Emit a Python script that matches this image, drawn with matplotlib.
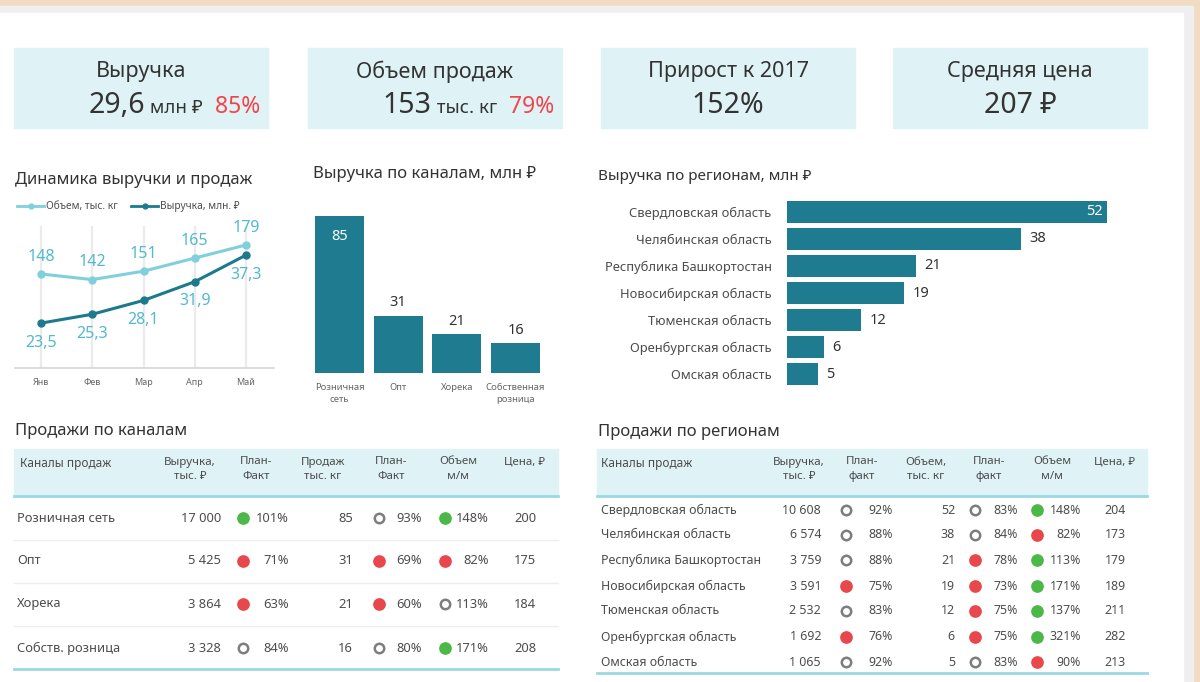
import numpy as np
import matplotlib.pyplot as plt
from matplotlib.patches import Rectangle
from matplotlib.lines import Line2D

plt.rcParams['font.family'] = ['Noto Sans', 'DejaVu Sans']

W, H = 1200, 682

# --------------------------------------------------
# Data
# --------------------------------------------------

kpi_titles = ["Выручка", "Объем продаж", "Прирост к 2017", "Средняя цена"]
kpi_values = ["29,6", "153", "152%", "207 ₽"]
kpi_units = ["млн ₽", "тыс. кг", "", ""]
kpi_plan = ["85%", "79%", "", ""]

months = ["Янв", "Фев", "Мар", "Апр", "Май"]
volume_month = [148, 142, 151, 165, 179]
revenue_month = [23.5, 25.3, 28.1, 31.9, 37.3]

channel_labels = ["Розничная\nсеть", "Опт", "Хорека", "Собственная\nрозница"]
channel_bar_values = [85, 31, 21, 16]

region_names = [
    "Свердловская область",
    "Челябинская область",
    "Республика Башкортостан",
    "Новосибирская область",
    "Тюменская область",
    "Оренбургская область",
    "Омская область",
]
region_bar_values = [52, 38, 21, 19, 12, 6, 5]

# table: sales by channel
ch_names = ["Розничная сеть", "Опт", "Хорека", "Собств. розница"]
ch_revenue = [17000, 5425, 3864, 3328]
ch_rev_plan = [101, 71, 63, 84]
ch_rev_status = ["g", "r", "r", "o"]
ch_sales = [85, 31, 21, 16]
ch_sales_plan = [93, 69, 60, 80]
ch_sales_status = ["o", "r", "r", "o"]
ch_vol_mm = [148, 82, 113, 171]
ch_vol_mm_status = ["g", "r", "o", "g"]
ch_price = [200, 175, 184, 208]

# table: sales by region
rg_revenue = [10608, 6574, 3759, 3591, 2532, 1692, 1065]
rg_rev_plan = [92, 88, 88, 75, 83, 76, 92]
rg_rev_status = ["o", "o", "o", "r", "o", "r", "o"]
rg_volume = [52, 38, 21, 19, 12, 6, 5]
rg_vol_plan = [83, 84, 78, 73, 75, 75, 83]
rg_vol_status = ["o", "o", "r", "r", "r", "r", "o"]
rg_vol_mm = [148, 82, 113, 171, 137, 321, 90]
rg_vol_mm_status = ["g", "r", "g", "g", "g", "g", "r"]
rg_price = [204, 173, 179, 189, 211, 282, 213]

# --------------------------------------------------
# Style
# --------------------------------------------------

bar_color = "#1f7b8f"
vol_color = "#7fd0dc"
rev_color = "#1d7a8d"
lbl_color = "#52b9cf"
head_bg = "#dff2f5"
line_teal = "#9ad9e3"
txt_dark = "#333333"
txt_mid = "#4d4d4d"
dot_colors = {"g": "#4cb848", "r": "#e8474b"}


def fmt_num(v):
    return f"{v:,}".replace(",", " ")


fig = plt.figure(figsize=(W / 100, H / 100), dpi=100)
fig.patch.set_facecolor("#f1dcc3")

base = fig.add_axes([0, 0, 1, 1])
base.set_xlim(0, W)
base.set_ylim(H, 0)
base.set_autoscale_on(False)
base.axis("off")

base.add_patch(Rectangle((0, 6), 1193, H - 6, color="#efefef", zorder=0))
base.add_patch(Rectangle((0, 13), 1183, H - 13, color="white", zorder=0))


def add_ax(x0, y0, x1, y1):
    a = fig.add_axes([x0 / W, 1 - y1 / H, (x1 - x0) / W, (y1 - y0) / H])
    a.set_facecolor("none")
    return a


renderer = fig.canvas.get_renderer()

# --------------------------------------------------
# KPI cards
# --------------------------------------------------

box_x = [14, 308, 601, 893]
box_w = 254

for i in range(4):
    x0 = box_x[i]
    base.add_patch(Rectangle((x0, 48), box_w, 80, color=head_bg, zorder=1))
    base.text(x0 + box_w / 2, 72, kpi_titles[i], fontsize=15.5,
              color=txt_dark, ha="center", va="center", zorder=2)

    parts = [(kpi_values[i], 20.5, txt_dark)]
    if kpi_units[i]:
        parts.append((" " + kpi_units[i], 13.5, txt_dark))
    if kpi_plan[i]:
        parts.append(("  " + kpi_plan[i], 16.5, "#f0454b"))

    texts = []
    for s, fs, c in parts:
        t = base.text(0, 113, s, fontsize=fs, color=c, ha="left",
                      va="baseline", zorder=2)
        texts.append(t)
    widths = [t.get_window_extent(renderer).width for t in texts]
    total = sum(widths)
    if kpi_plan[i]:
        start = x0 + box_w - 8 - total
    else:
        start = x0 + box_w / 2 - total / 2
    for t, w in zip(texts, widths):
        t.set_x(start)
        start += w

# --------------------------------------------------
# Line chart: revenue and volume by month
# --------------------------------------------------

base.text(15, 180, "Динамика выручки и продаж", fontsize=12,
          color=txt_dark, ha="left", va="center")

ax = add_ax(15, 226, 274, 368)
xm = np.arange(len(months))
ax.set_xlim(-0.507, 4.546)
ax.set_ylim(47.5, 199.3)
for xi in xm:
    ax.axvline(xi, color="#ebebeb", lw=1.6, zorder=0)

ax.plot(xm, volume_month, color=vol_color, lw=2.2, marker="o", ms=5,
        zorder=3)
for xi, v in zip(xm, volume_month):
    ax.annotate(str(v), (xi, v), xytext=(0, 12.5), textcoords="offset points",
                ha="center", va="center", fontsize=11.5, color=lbl_color)

ax2 = ax.twinx()
ax2.set_facecolor("none")
ax2.set_ylim(14.4, 43.2)
ax2.plot(xm, revenue_month, color=rev_color, lw=2.2, marker="o", ms=5,
         zorder=3)
for xi, v in zip(xm, revenue_month):
    ax2.annotate(f"{v:.1f}".replace(".", ","), (xi, v), xytext=(0, -14),
                 textcoords="offset points", ha="center", va="center",
                 fontsize=11.5, color=lbl_color)

for a in (ax, ax2):
    for sp in a.spines.values():
        sp.set_visible(False)
    a.set_yticks([])
ax.spines["bottom"].set_visible(True)
ax.spines["bottom"].set_color("#d5d5d5")
ax.spines["bottom"].set_linewidth(1.2)
ax.set_xticks(xm)
ax.set_xticklabels(months, fontsize=6.5, color="#666666")
ax.tick_params(axis="x", length=0, pad=7)

handles = [
    Line2D([0], [0], color=vol_color, lw=2, marker="o", ms=3.5),
    Line2D([0], [0], color=rev_color, lw=2, marker="o", ms=3.5),
]
leg = ax.legend(handles, ["Объем, тыс. кг", "Выручка, млн. ₽"],
                loc="center left", bbox_to_anchor=(17 / W, 1 - 207 / H),
                bbox_transform=fig.transFigure, ncol=2, fontsize=7.3,
                frameon=False, handlelength=2.7, handletextpad=0.15,
                columnspacing=1.3, borderaxespad=0, borderpad=0)
for t in leg.get_texts():
    t.set_color(txt_mid)

# --------------------------------------------------
# Bar chart: revenue by channel
# --------------------------------------------------

base.text(313, 174, "Выручка по каналам, млн ₽", fontsize=12,
          color=txt_dark, ha="left", va="center")

axb = add_ax(305, 200, 550, 373)
xb = np.arange(len(channel_bar_values))
axb.bar(xb, channel_bar_values, width=0.835, color=bar_color)
axb.set_xlim(-0.588, 3.588)
axb.set_ylim(0, 93.7)
top = max(channel_bar_values)
for xi, v in zip(xb, channel_bar_values):
    if v == top:
        axb.annotate(str(v), (xi, v), xytext=(0, -15),
                     textcoords="offset points", ha="center", va="center",
                     fontsize=10.5, color="white")
    else:
        axb.annotate(str(v), (xi, v), xytext=(0, 9.5),
                     textcoords="offset points", ha="center", va="center",
                     fontsize=10.5, color=txt_dark)
for sp in axb.spines.values():
    sp.set_visible(False)
axb.set_yticks([])
axb.set_xticks(xb)
axb.set_xticklabels(channel_labels, fontsize=6.8, color="#666666",
                    linespacing=1.45)
axb.tick_params(axis="x", length=0, pad=7)

# --------------------------------------------------
# Bar chart: revenue by region
# --------------------------------------------------

base.text(598, 177, "Выручка по регионам, млн ₽", fontsize=11,
          color=txt_dark, ha="left", va="center")

axr = add_ax(787, 200, 1130, 386)
yr = np.arange(len(region_bar_values))
axr.barh(yr, region_bar_values, height=0.815, color=bar_color)
axr.set_ylim(6.444, -0.444)
axr.set_xlim(0, 55.7)
top = max(region_bar_values)
for yi, v in zip(yr, region_bar_values):
    if v == top:
        axr.annotate(str(v), (v, yi), xytext=(-3, 0),
                     textcoords="offset points", ha="right", va="center",
                     fontsize=10.5, color="white")
    else:
        axr.annotate(str(v), (v, yi), xytext=(6, 0),
                     textcoords="offset points", ha="left", va="center",
                     fontsize=10.5, color=txt_dark)
for sp in axr.spines.values():
    sp.set_visible(False)
axr.set_xticks([])
axr.set_yticks(yr)
axr.set_yticklabels(region_names, fontsize=9.3, color=txt_mid)
axr.tick_params(axis="y", length=0, pad=11)


# --------------------------------------------------
# Tables
# --------------------------------------------------

def dot(x, y, status):
    if status == "o":
        base.scatter([x], [y], s=46, facecolor="white", edgecolor="#7d7d7d",
                     linewidth=1.8, zorder=3)
    else:
        base.scatter([x], [y], s=66, color=dot_colors[status], zorder=3)


def header(x0, x1, cols, names_x, title_y, title):
    base.text(x0 + 1, title_y, title, fontsize=12, color=txt_dark,
              ha="left", va="center")
    base.add_patch(Rectangle((x0, 449), x1 - x0, 47, color=head_bg,
                             zorder=1))
    base.plot([x0, x1], [496, 496], color=line_teal, lw=2, zorder=2)
    base.text(names_x, 463, "Каналы продаж", fontsize=8.5, color=txt_mid,
              ha="left", va="center", zorder=2)
    for cx, s in cols:
        base.text(cx, 456.5, s, fontsize=8.3, color=txt_mid, ha="center",
                  va="top", linespacing=1.4, zorder=2)


# left table
header(14, 558,
       [(190, "Выручка,\nтыс. ₽"), (256, "План-\nФакт"),
        (323, "Продаж\nтыс. кг"), (391, "План-\nФакт"),
        (458, "Объем\nм/м"), (525, "Цена, ₽")],
       20, 431, "Продажи по каналам")
row_y = [518, 561, 604, 648]
for i, y in enumerate(row_y):
    fs = 9.3
    base.text(17, y, ch_names[i], fontsize=fs, color=txt_mid, ha="left",
              va="center")
    base.text(221, y, fmt_num(ch_revenue[i]), fontsize=fs, color=txt_mid,
              ha="right", va="center")
    dot(243, y, ch_rev_status[i])
    base.text(289, y, f"{ch_rev_plan[i]}%", fontsize=fs, color=txt_mid,
              ha="right", va="center")
    base.text(353, y, str(ch_sales[i]), fontsize=fs, color=txt_mid,
              ha="right", va="center")
    dot(379, y, ch_sales_status[i])
    base.text(422, y, f"{ch_sales_plan[i]}%", fontsize=fs, color=txt_mid,
              ha="right", va="center")
    dot(445, y, ch_vol_mm_status[i])
    base.text(489, y, f"{ch_vol_mm[i]}%", fontsize=fs, color=txt_mid,
              ha="right", va="center")
    base.text(525, y, str(ch_price[i]), fontsize=fs, color=txt_mid,
              ha="center", va="center")
for y in [540, 583, 626]:
    base.plot([14, 558], [y, y], color="#eeeeee", lw=1, zorder=1)
base.plot([14, 558], [669, 669], color=line_teal, lw=2, zorder=2)

# right table
header(597, 1147,
       [(799, "Выручка,\nтыс. ₽"), (862, "План-\nфакт"),
        (926, "Объем,\nтыс. кг"), (989, "План-\nфакт"),
        (1052, "Объем\nм/м"), (1115, "Цена, ₽")],
       601, 432, "Продажи по регионам")
row_y = [510, 535, 560, 586, 611, 637, 662]
for i, y in enumerate(row_y):
    fs = 8.9
    base.text(601, y, region_names[i], fontsize=fs, color=txt_mid,
              ha="left", va="center")
    base.text(821, y, fmt_num(rg_revenue[i]), fontsize=fs, color=txt_mid,
              ha="right", va="center")
    dot(846, y, rg_rev_status[i])
    base.text(893, y, f"{rg_rev_plan[i]}%", fontsize=fs, color=txt_mid,
              ha="right", va="center")
    base.text(955, y, str(rg_volume[i]), fontsize=fs, color=txt_mid,
              ha="right", va="center")
    dot(975, y, rg_vol_status[i])
    base.text(1018, y, f"{rg_vol_plan[i]}%", fontsize=fs, color=txt_mid,
              ha="right", va="center")
    dot(1037, y, rg_vol_mm_status[i])
    base.text(1081, y, f"{rg_vol_mm[i]}%", fontsize=fs, color=txt_mid,
              ha="right", va="center")
    base.text(1115, y, str(rg_price[i]), fontsize=fs, color=txt_mid,
              ha="center", va="center")
base.plot([597, 1147], [673, 673], color=line_teal, lw=2, zorder=2)

fig.savefig("out.png", dpi=100, facecolor=fig.get_facecolor())
